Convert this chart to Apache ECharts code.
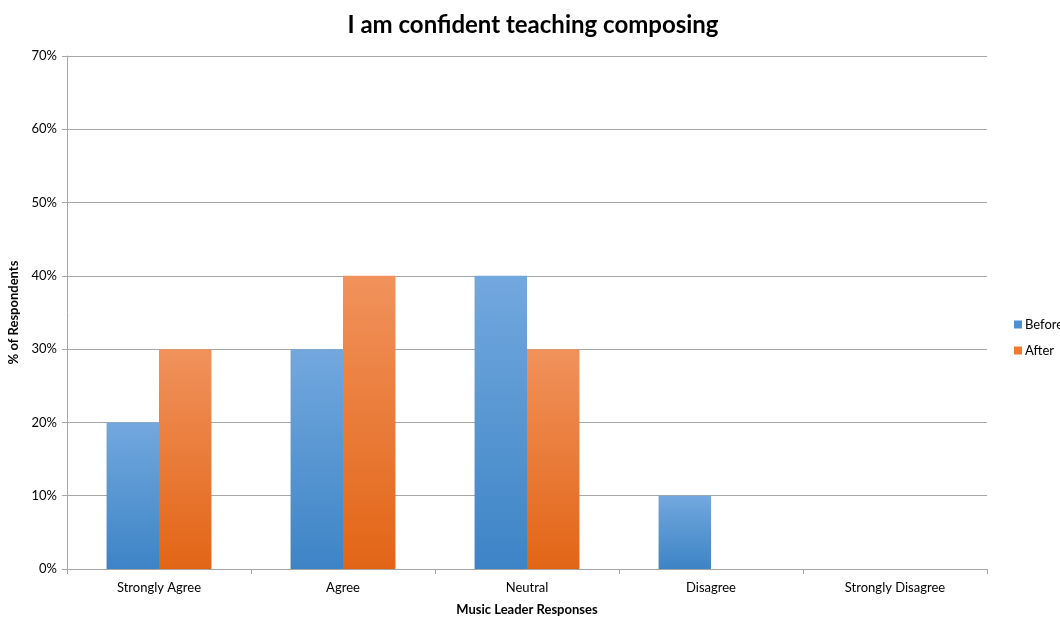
<!DOCTYPE html>
<html>
<head>
<meta charset="utf-8">
<script src="https://cdn.jsdelivr.net/npm/echarts@6/dist/echarts.min.js"></script>
<style>
  html, body { margin: 0; padding: 0; background: #fff; }
  #chart { width: 1060px; height: 618px; }
</style>
</head>
<body>
<div id="chart"></div>
<script>
const categories = ['Strongly Agree', 'Agree', 'Neutral', 'Disagree', 'Strongly Disagree']
const beforeValues = [20, 30, 40, 10, 0]
const afterValues = [30, 40, 30, 0, 0]

const chart = echarts.init(document.getElementById('chart'))

const grad = (top, bottom) => new echarts.graphic.LinearGradient(0, 0, 0, 1, [
  { offset: 0, color: top },
  { offset: 1, color: bottom }
])

const option = {
  textStyle: { fontFamily: 'Lato' },
  title: {
    text: 'I am confident teaching composing',
    left: 528,
    textAlign: 'center',
    top: 8,
    textStyle: { fontSize: 24, fontWeight: 'bold', color: '#000', fontFamily: 'Lato' }
  },
  legend: {
    orient: 'vertical',
    left: 1009,
    top: 313,
    itemWidth: 8,
    itemHeight: 8,
    itemGap: 13,
    icon: 'rect',
    textStyle: { fontSize: 13, color: '#000', padding: [0, 0, 0, -2] },
    data: [
      { name: 'Before', itemStyle: { color: '#4d8fd3' } },
      { name: 'After', itemStyle: { color: '#ef7a2e' } }
    ]
  },
  grid: { left: 67, right: 73, top: 56, bottom: 49, outerBoundsMode: 'none' },
  xAxis: {
    type: 'category',
    data: categories,
    name: 'Music Leader Responses',
    nameLocation: 'middle',
    nameGap: 34,
    nameTextStyle: { fontSize: 13, fontWeight: 'bold', color: '#000' },
    axisLine: { lineStyle: { color: '#a6a6a6' } },
    axisTick: { show: true, length: 5, lineStyle: { color: '#a6a6a6' } },
    axisLabel: { color: '#000', fontSize: 13, margin: 12 }
  },
  yAxis: {
    type: 'value',
    min: 0,
    max: 70,
    interval: 10,
    name: '% of Respondents',
    nameLocation: 'middle',
    nameGap: 44,
    nameTextStyle: { fontSize: 13, fontWeight: 'bold', color: '#000' },
    axisLine: { show: true, lineStyle: { color: '#a6a6a6' } },
    axisTick: { show: true, length: 5, lineStyle: { color: '#a6a6a6' } },
    axisLabel: { color: '#000', fontSize: 13, formatter: '{value}%', margin: 10 },
    splitLine: { lineStyle: { color: '#a6a6a6' } }
  },
  series: [
    {
      name: 'Before',
      type: 'bar',
      data: beforeValues,
      barGap: '0%',
      barCategoryGap: '43%',
      itemStyle: { color: grad('#72a8de', '#3d84c6') }
    },
    {
      name: 'After',
      type: 'bar',
      data: afterValues,
      barGap: '0%',
      barCategoryGap: '43%',
      itemStyle: { color: grad('#f1925c', '#e26516') }
    }
  ]
}

chart.setOption(option)
</script>
</body>
</html>
